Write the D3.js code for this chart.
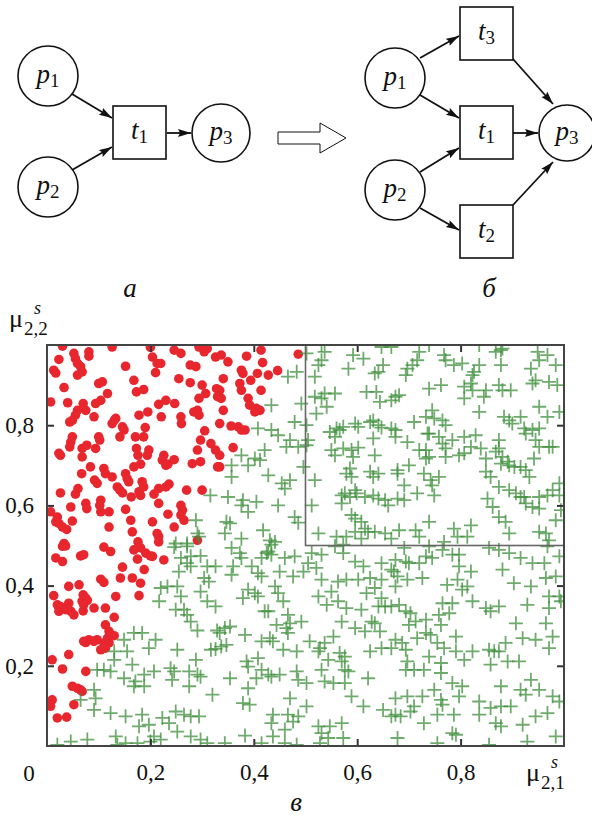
<!DOCTYPE html>
<html>
<head>
<meta charset="utf-8">
<script src="https://cdn.jsdelivr.net/npm/d3@7"></script>
<style>
  body { margin: 0; background: #fff; }
  svg { display: block; }
  svg text { font-family: "Liberation Serif", "Times New Roman", Times, "DejaVu Serif", serif; fill: #111; }
</style>
</head>
<body>
<div id="chart"></div>
<script>
// --- data ---
const xTicks = [0.2, 0.4, 0.6, 0.8];
const yTicks = [0.2, 0.4, 0.6, 0.8];
const originLabel = "0";
const boxX = [0.5, 1]; // inner rectangle
const boxY = [0.5, 1];

// red dots, upper left
const redUpper = [[0.03,0.997],[0.126,0.995],[0.2,0.994],[0.246,0.987],[0.259,0.979],[0.294,0.995],[0.304,0.983],[0.31,0.991],[0.052,0.979],[0.055,0.966],[0.081,0.983],[0.081,0.972],[0.023,0.964],[0.059,0.954],[0.065,0.946],[0.068,0.933],[0.059,0.925],[0.013,0.937],[0.017,0.93],[0.152,0.947],[0.204,0.97],[0.213,0.954],[0.22,0.954],[0.21,0.931],[0.277,0.95],[0.288,0.946],[0.326,0.97],[0.168,0.912],[0.173,0.883],[0.187,0.889],[0.255,0.916],[0.277,0.906],[0.3,0.9],[0.307,0.879],[0.294,0.867],[0.328,0.891],[0.33,0.871],[0.033,0.894],[0.1,0.904],[0.107,0.908],[0.117,0.879],[0.007,0.858],[0.04,0.856],[0.07,0.854],[0.075,0.837],[0.059,0.837],[0.055,0.825],[0.049,0.812],[0.044,0.808],[0.091,0.821],[0.094,0.854],[0.104,0.862],[0.13,0.812],[0.133,0.817],[0.126,0.804],[0.146,0.796],[0.149,0.788],[0.141,0.771],[0.178,0.825],[0.195,0.833],[0.216,0.852],[0.23,0.862],[0.247,0.854],[0.221,0.821],[0.259,0.821],[0.26,0.804],[0.284,0.833],[0.291,0.837],[0.294,0.825],[0.19,0.794],[0.187,0.771],[0.171,0.771],[0.305,0.786],[0.297,0.763],[0.317,0.754],[0.291,0.738],[0.326,0.738],[0.33,0.696],[0.049,0.771],[0.046,0.758],[0.044,0.746],[0.026,0.725],[0.023,0.73],[0.068,0.742],[0.077,0.75],[0.068,0.721],[0.094,0.742],[0.1,0.771],[0.102,0.763],[0.173,0.742],[0.176,0.725],[0.197,0.738],[0.194,0.725],[0.226,0.725],[0.223,0.713],[0.23,0.7],[0.234,0.703],[0.246,0.714],[0.281,0.704],[0.297,0.709],[0.168,0.696],[0.181,0.703],[0.084,0.696],[0.11,0.692],[0.113,0.679],[0.067,0.679],[0.092,0.663],[0.097,0.655],[0.126,0.671],[0.152,0.679],[0.155,0.667],[0.158,0.659],[0.136,0.646],[0.141,0.638],[0.146,0.631],[0.184,0.659],[0.187,0.646],[0.178,0.634],[0.181,0.625],[0.163,0.621],[0.207,0.628],[0.216,0.642],[0.23,0.646],[0.236,0.653],[0.27,0.638],[0.3,0.638],[0.06,0.642],[0.055,0.628],[0.026,0.631],[0.216,0.605],[0.259,0.6],[0.262,0.588],[0.259,0.576],[0.265,0.563],[0.234,0.578],[0.204,0.559],[0.162,0.563],[0.152,0.59],[0.12,0.584],[0.104,0.613],[0.102,0.6],[0.104,0.584],[0.075,0.605],[0.077,0.592],[0.046,0.596],[0.02,0.571],[0.017,0.559],[0.023,0.555],[0.007,0.584],[0.03,0.546],[0.038,0.54],[0.049,0.561],[0.165,0.534],[0.12,0.546],[0.213,0.53],[0.216,0.522],[0.216,0.509],[0.246,0.546],[0.291,0.513],[0.176,0.509],[0.033,0.505]];
// red dots, upper middle
const redMid = [[0.337,0.975],[0.35,0.958],[0.386,0.972],[0.414,0.987],[0.417,0.956],[0.376,0.937],[0.379,0.929],[0.407,0.929],[0.428,0.925],[0.446,0.936],[0.341,0.916],[0.373,0.904],[0.376,0.887],[0.394,0.912],[0.414,0.887],[0.334,0.887],[0.337,0.867],[0.341,0.837],[0.389,0.867],[0.392,0.85],[0.405,0.842],[0.412,0.837],[0.402,0.833],[0.486,0.977],[0.356,0.798],[0.334,0.804],[0.37,0.796],[0.376,0.788],[0.383,0.788],[0.36,0.744],[0.334,0.725],[0.334,0.696]];
// red dots, lower left
const redLower = [[0.03,0.498],[0.036,0.499],[0.11,0.496],[0.123,0.485],[0.168,0.489],[0.181,0.494],[0.175,0.466],[0.191,0.481],[0.2,0.474],[0.204,0.473],[0.226,0.464],[0.017,0.469],[0.03,0.46],[0.065,0.474],[0.071,0.477],[0.146,0.446],[0.188,0.44],[0.142,0.419],[0.165,0.419],[0.181,0.406],[0.104,0.416],[0.11,0.408],[0.042,0.398],[0.062,0.402],[0.013,0.375],[0.07,0.377],[0.075,0.369],[0.068,0.361],[0.078,0.363],[0.071,0.352],[0.133,0.373],[0.178,0.375],[0.02,0.352],[0.026,0.348],[0.023,0.336],[0.036,0.34],[0.042,0.356],[0.046,0.336],[0.052,0.327],[0.07,0.337],[0.091,0.344],[0.113,0.344],[0.13,0.321],[0.113,0.302],[0.12,0.286],[0.123,0.277],[0.13,0.275],[0.117,0.269],[0.11,0.257],[0.104,0.24],[0.113,0.244],[0.12,0.257],[0.097,0.265],[0.091,0.261],[0.081,0.265],[0.075,0.258],[0.071,0.261],[0.042,0.228],[0.01,0.215],[0.03,0.192],[0.075,0.186],[0.049,0.149],[0.059,0.144],[0.065,0.14],[0.068,0.136],[0.052,0.103],[0.01,0.115],[0.007,0.099],[0.02,0.07],[0.038,0.072]];

// green crosses, by region
const greenLowLeft = [[0.316,0.625],[0.288,0.563],[0.291,0.53],[0.294,0.522],[0.249,0.505],[0.271,0.505],[0.246,0.496],[0.271,0.498],[0.259,0.469],[0.278,0.473],[0.271,0.456],[0.278,0.448],[0.255,0.435],[0.297,0.474],[0.31,0.448],[0.326,0.448],[0.304,0.419],[0.313,0.41],[0.297,0.385],[0.31,0.361],[0.326,0.348],[0.22,0.394],[0.233,0.398],[0.252,0.398],[0.217,0.361],[0.259,0.373],[0.249,0.34],[0.265,0.34],[0.271,0.327],[0.278,0.31],[0.291,0.288],[0.329,0.288],[0.317,0.24],[0.326,0.242],[0.288,0.215],[0.168,0.282],[0.184,0.282],[0.149,0.265],[0.21,0.265],[0.197,0.244],[0.252,0.24],[0.13,0.236],[0.13,0.215],[0.155,0.236],[0.165,0.203],[0.097,0.19],[0.11,0.19],[0.123,0.186],[0.149,0.169],[0.171,0.161],[0.188,0.178],[0.188,0.149],[0.168,0.149],[0.207,0.186],[0.239,0.194],[0.246,0.186],[0.275,0.186],[0.291,0.178],[0.297,0.173],[0.242,0.165],[0.275,0.149],[0.32,0.128],[0.091,0.14],[0.094,0.119],[0.065,0.115],[0.091,0.09],[0.123,0.082],[0.152,0.074],[0.184,0.078],[0.178,0.049],[0.197,0.053],[0.223,0.07],[0.236,0.057],[0.249,0.086],[0.265,0.078],[0.278,0.074],[0.294,0.074],[0.252,0.036],[0.278,0.024],[0.297,0.016],[0.31,0.007],[0.078,0.016],[0.046,0.011],[0.02,0.003],[0.133,0.024],[0.136,0.003],[0.152,0.007],[0.175,0.007],[0.2,0.011],[0.207,0.024],[0.22,0.016]];
const greenUpMid = [[0.502,0.979],[0.466,0.921],[0.483,0.933],[0.434,0.85],[0.492,0.854],[0.479,0.808],[0.502,0.8],[0.408,0.792],[0.434,0.788],[0.447,0.775],[0.47,0.763],[0.463,0.746],[0.486,0.746],[0.502,0.75],[0.505,0.763],[0.421,0.738],[0.376,0.725],[0.357,0.7],[0.357,0.671],[0.402,0.717],[0.412,0.713],[0.389,0.7],[0.428,0.675],[0.454,0.655],[0.47,0.663],[0.46,0.642],[0.496,0.696],[0.35,0.621],[0.379,0.613],[0.376,0.6],[0.389,0.584],[0.405,0.609],[0.447,0.6],[0.479,0.571],[0.486,0.557],[0.347,0.559],[0.354,0.555],[0.344,0.53],[0.376,0.517],[0.418,0.538],[0.431,0.513],[0.441,0.509],[0.518,0.663],[0.512,0.6],[0.525,0.53],[0.531,0.962],[0.518,0.921],[0.525,0.95],[0.518,0.871],[0.531,0.867],[0.537,0.879],[0.557,0.879],[0.541,0.846],[0.521,0.829],[0.547,0.783],[0.56,0.792],[0.566,0.788],[0.573,0.796],[0.557,0.771],[0.596,0.804],[0.602,0.796],[0.625,0.808],[0.641,0.8],[0.647,0.794],[0.666,0.792],[0.631,0.767],[0.55,0.738],[0.557,0.725],[0.573,0.742],[0.589,0.738],[0.602,0.744],[0.592,0.721],[0.634,0.725],[0.579,0.679],[0.586,0.692],[0.589,0.671],[0.625,0.684],[0.641,0.679],[0.631,0.671],[0.57,0.625],[0.576,0.63],[0.586,0.621],[0.596,0.638],[0.599,0.63],[0.615,0.621],[0.631,0.625],[0.641,0.617],[0.654,0.613],[0.66,0.6],[0.57,0.605],[0.589,0.576],[0.596,0.567],[0.608,0.559],[0.615,0.542],[0.621,0.534],[0.634,0.534],[0.654,0.53],[0.666,0.517],[0.56,0.522],[0.579,0.522],[0.596,0.534],[0.608,0.517],[0.592,0.975],[0.612,0.966],[0.583,0.941],[0.65,0.95],[0.641,0.933],[0.634,0.929],[0.647,0.995],[0.666,0.995],[0.618,0.883],[0.637,0.883],[0.644,0.858],[0.666,0.862],[0.631,0.812],[0.531,1.0],[0.537,0.983]];
const greenUpRight = [[0.739,1.0],[0.72,0.983],[0.716,0.962],[0.697,0.941],[0.694,0.925],[0.707,0.95],[0.768,0.975],[0.771,0.962],[0.787,0.95],[0.803,0.954],[0.836,1.0],[0.836,0.95],[0.826,0.933],[0.823,0.925],[0.878,0.987],[0.881,0.991],[0.868,0.983],[0.878,0.95],[0.807,0.896],[0.82,0.904],[0.823,0.887],[0.849,0.887],[0.845,0.871],[0.874,0.9],[0.881,0.887],[0.897,0.887],[0.949,0.983],[0.968,0.975],[0.984,0.95],[0.952,0.962],[0.936,0.941],[0.945,0.912],[0.939,0.904],[0.971,0.908],[0.987,0.9],[0.674,0.871],[0.681,0.875],[0.739,0.891],[0.762,0.9],[0.807,0.867],[0.836,0.833],[0.952,0.846],[0.968,0.821],[0.991,0.833],[0.745,0.837],[0.733,0.821],[0.749,0.817],[0.765,0.812],[0.771,0.8],[0.71,0.808],[0.674,0.788],[0.674,0.771],[0.697,0.758],[0.739,0.779],[0.758,0.771],[0.784,0.763],[0.807,0.771],[0.829,0.775],[0.884,0.821],[0.894,0.812],[0.9,0.804],[0.916,0.821],[0.952,0.792],[0.939,0.788],[0.923,0.792],[0.926,0.779],[0.945,0.763],[0.874,0.763],[0.868,0.734],[0.874,0.742],[0.82,0.746],[0.839,0.742],[0.807,0.73],[0.797,0.725],[0.771,0.742],[0.771,0.721],[0.733,0.738],[0.733,0.717],[0.739,0.721],[0.72,0.738],[0.7,0.7],[0.678,0.688],[0.678,0.679],[0.849,0.717],[0.881,0.721],[0.878,0.704],[0.891,0.709],[0.894,0.7],[0.904,0.696],[0.916,0.696],[0.926,0.688],[0.942,0.717],[0.971,0.746],[0.978,0.746],[0.952,0.746],[0.729,0.679],[0.742,0.663],[0.745,0.65],[0.758,0.671],[0.849,0.684],[0.858,0.671],[0.874,0.646],[0.894,0.638],[0.907,0.63],[0.916,0.621],[0.923,0.621],[0.926,0.605],[0.939,0.596],[0.952,0.621],[0.968,0.625],[0.978,0.638],[0.991,0.655],[0.991,0.625],[0.994,0.588],[0.691,0.65],[0.678,0.617],[0.691,0.613],[0.716,0.63],[0.749,0.625],[0.852,0.617],[0.862,0.596],[0.874,0.571],[0.887,0.559],[0.739,0.559],[0.787,0.542],[0.82,0.55],[0.813,0.522],[0.794,0.522],[0.713,0.538],[0.72,0.522],[0.681,0.538],[0.768,0.509],[0.894,0.53],[0.952,0.534],[0.965,0.53],[0.971,0.513],[0.984,0.563],[0.952,0.592],[0.933,0.671],[0.736,0.779],[0.765,0.754]];
const greenLowMid = [[0.357,0.494],[0.373,0.481],[0.376,0.469],[0.36,0.448],[0.357,0.427],[0.396,0.448],[0.415,0.469],[0.425,0.481],[0.434,0.477],[0.46,0.469],[0.479,0.473],[0.512,0.481],[0.531,0.477],[0.505,0.456],[0.521,0.444],[0.496,0.435],[0.476,0.423],[0.45,0.435],[0.415,0.423],[0.408,0.431],[0.389,0.39],[0.402,0.381],[0.379,0.369],[0.408,0.373],[0.441,0.398],[0.447,0.381],[0.457,0.361],[0.421,0.336],[0.428,0.336],[0.466,0.327],[0.47,0.306],[0.463,0.294],[0.466,0.282],[0.492,0.31],[0.444,0.302],[0.344,0.294],[0.354,0.298],[0.334,0.282],[0.337,0.248],[0.347,0.252],[0.383,0.277],[0.415,0.261],[0.431,0.269],[0.437,0.261],[0.457,0.24],[0.483,0.236],[0.508,0.261],[0.528,0.244],[0.537,0.257],[0.554,0.273],[0.525,0.236],[0.544,0.215],[0.566,0.232],[0.576,0.223],[0.386,0.211],[0.389,0.198],[0.408,0.219],[0.415,0.19],[0.405,0.169],[0.428,0.178],[0.45,0.178],[0.434,0.173],[0.483,0.186],[0.486,0.165],[0.502,0.157],[0.354,0.169],[0.389,0.144],[0.379,0.107],[0.392,0.103],[0.47,0.119],[0.502,0.099],[0.437,0.078],[0.434,0.057],[0.466,0.078],[0.486,0.074],[0.476,0.061],[0.46,0.041],[0.437,0.024],[0.383,0.026],[0.344,0.007],[0.415,0.007],[0.46,0.007],[0.483,0.003],[0.525,0.049],[0.547,0.049],[0.531,0.032],[0.544,0.02],[0.573,0.02],[0.57,0.057],[0.528,0.007],[0.434,0.502],[0.428,0.485],[0.531,0.415],[0.563,0.41],[0.579,0.415],[0.602,0.415],[0.625,0.419],[0.55,0.385],[0.525,0.373],[0.541,0.352],[0.563,0.361],[0.579,0.344],[0.608,0.34],[0.618,0.381],[0.634,0.394],[0.647,0.369],[0.654,0.348],[0.666,0.348],[0.641,0.348],[0.57,0.31],[0.596,0.294],[0.615,0.286],[0.628,0.31],[0.634,0.306],[0.644,0.286],[0.625,0.236],[0.647,0.244],[0.666,0.244],[0.57,0.211],[0.576,0.19],[0.583,0.186],[0.531,0.19],[0.537,0.161],[0.554,0.157],[0.576,0.157],[0.589,0.124],[0.621,0.169],[0.612,0.099],[0.65,0.09],[0.666,0.074],[0.573,0.481],[0.596,0.46],[0.612,0.448],[0.647,0.456],[0.666,0.44],[0.647,0.415],[0.557,0.498],[0.573,0.502]];
const greenLowRight = [[0.691,0.494],[0.739,0.498],[0.765,0.489],[0.784,0.477],[0.797,0.477],[0.855,0.494],[0.874,0.489],[0.894,0.481],[0.916,0.469],[0.968,0.498],[0.991,0.473],[0.939,0.456],[0.962,0.456],[0.674,0.464],[0.694,0.46],[0.7,0.456],[0.72,0.456],[0.733,0.473],[0.745,0.469],[0.671,0.435],[0.678,0.423],[0.697,0.415],[0.726,0.419],[0.674,0.398],[0.797,0.448],[0.82,0.435],[0.881,0.44],[0.774,0.402],[0.794,0.415],[0.803,0.39],[0.813,0.398],[0.823,0.361],[0.903,0.406],[0.936,0.398],[0.965,0.419],[0.984,0.423],[0.971,0.373],[0.991,0.373],[0.994,0.361],[0.971,0.344],[0.965,0.306],[0.681,0.352],[0.694,0.336],[0.703,0.331],[0.765,0.356],[0.784,0.356],[0.778,0.331],[0.758,0.327],[0.762,0.302],[0.849,0.344],[0.858,0.336],[0.874,0.348],[0.907,0.306],[0.929,0.352],[0.92,0.269],[0.945,0.265],[0.978,0.273],[0.971,0.244],[0.713,0.311],[0.733,0.315],[0.7,0.302],[0.674,0.265],[0.687,0.257],[0.694,0.24],[0.716,0.269],[0.733,0.282],[0.742,0.277],[0.755,0.257],[0.768,0.244],[0.791,0.273],[0.791,0.236],[0.807,0.215],[0.823,0.236],[0.855,0.24],[0.865,0.236],[0.874,0.236],[0.887,0.257],[0.891,0.211],[0.913,0.211],[0.858,0.203],[0.697,0.211],[0.694,0.19],[0.71,0.19],[0.729,0.19],[0.739,0.223],[0.762,0.207],[0.762,0.182],[0.784,0.157],[0.803,0.149],[0.797,0.124],[0.749,0.14],[0.762,0.115],[0.765,0.103],[0.674,0.119],[0.697,0.124],[0.726,0.124],[0.71,0.099],[0.674,0.078],[0.684,0.074],[0.703,0.086],[0.729,0.057],[0.755,0.078],[0.787,0.078],[0.836,0.111],[0.836,0.078],[0.858,0.095],[0.878,0.099],[0.897,0.099],[0.868,0.057],[0.878,0.049],[0.92,0.053],[0.945,0.074],[0.968,0.082],[0.878,0.149],[0.916,0.14],[0.926,0.128],[0.952,0.14],[0.978,0.124],[0.991,0.111],[0.936,0.165],[0.784,0.032],[0.791,0.028],[0.678,0.02],[0.855,0.003],[0.929,0.011],[0.984,0.024],[0.755,0.007]];

const redPts = redUpper.concat(redMid, redLower);
const greenPts = greenLowLeft.concat(greenUpMid, greenUpRight, greenLowMid, greenLowRight);

const serif = '"Liberation Serif", "Times New Roman", Times, "DejaVu Serif", serif';

const svg = d3.select("#chart").append("svg")
    .attr("width", 592)
    .attr("height", 818)
    .attr("font-family", serif);

svg.append("defs").append("marker")
    .attr("id", "head")
    .attr("markerUnits", "userSpaceOnUse")
    .attr("markerWidth", 14).attr("markerHeight", 10)
    .attr("refX", 13).attr("refY", 4)
    .attr("orient", "auto")
  .append("path")
    .attr("d", "M0,0 L13,4 L0,8 L2,4 Z")
    .attr("fill", "#111");

// italic letter with upright subscript, e.g. p1, t3
const nodeLabel = function(g, cx, cy, letter, sub) {
    const t = g.append("text")
        .attr("x", cx).attr("y", cy + 7)
        .attr("text-anchor", "middle");
    t.append("tspan").attr("font-style", "italic").attr("font-size", 27).text(letter);
    t.append("tspan").attr("font-size", 19).attr("dy", 4).text(sub);
}

const drawNet = function(places, trans, arcs) {
    let g = svg.append("g");
    places.forEach((p) => {
        g.append("circle").attr("cx", p.x).attr("cy", p.y).attr("r", p.r)
            .attr("fill", "#fff").attr("stroke", "#111").attr("stroke-width", 1.6);
        nodeLabel(g, p.x, p.y, "p", p.id);
    })
    trans.forEach((t) => {
        g.append("rect").attr("x", t.x).attr("y", t.y).attr("width", 53).attr("height", 53)
            .attr("fill", "#fff").attr("stroke", "#111").attr("stroke-width", 1.6);
        nodeLabel(g, t.x + 26.5, t.y + 26, "t", t.id);
    })
    arcs.forEach((a) => {
        g.append("line").attr("x1", a[0]).attr("y1", a[1]).attr("x2", a[2]).attr("y2", a[3])
            .attr("stroke", "#111").attr("stroke-width", 1.8).attr("marker-end", "url(#head)");
    })
}

// net a
drawNet(
    [{id: "1", x: 48, y: 76, r: 30}, {id: "2", x: 48, y: 187, r: 30}, {id: "3", x: 221, y: 133, r: 29}],
    [{id: "1", x: 113, y: 106}],
    [[72, 94, 112, 118], [72, 170, 112, 147], [167, 133, 191, 133]]
);
// net б
drawNet(
    [{id: "1", x: 395, y: 78, r: 30}, {id: "2", x: 395, y: 190, r: 30}, {id: "3", x: 567, y: 133, r: 28}],
    [{id: "3", x: 460, y: 7}, {id: "1", x: 460, y: 106}, {id: "2", x: 460, y: 205}],
    [[420, 58, 459, 36], [420, 95, 459, 118], [420, 172, 459, 148], [420, 208, 459, 230],
     [513, 59, 553, 104], [513, 133, 538, 133], [513, 205, 553, 162]]
);

// hollow arrow between the nets
svg.append("path")
    .attr("d", "M278,132 L320,132 L320,123 L346,138 L320,153 L320,144 L278,144 Z")
    .attr("fill", "#fff").attr("stroke", "#111").attr("stroke-width", 1);

const caption = function(x, y, s) {
    svg.append("text").attr("x", x).attr("y", y).attr("text-anchor", "middle")
        .attr("font-style", "italic").attr("font-size", 27).text(s);
}
caption(130, 297, "а");
caption(489, 297, "б");
caption(296, 811, "в");

// --- scatter ---
const x = d3.scaleLinear().domain([0, 1]).range([47, 564]);
const y = d3.scaleLinear().domain([0, 1]).range([746, 345]);
const commaFmt = (d) => d3.format(".1f")(d).replace(".", ",");

svg.append("clipPath").attr("id", "plot-clip")
  .append("rect").attr("x", 47).attr("y", 345).attr("width", 517).attr("height", 401);

let plot = svg.append("g").attr("clip-path", "url(#plot-clip)");

plot.selectAll(".red")
    .data(redPts)
    .enter().append("circle")
        .attr("class", "red")
        .attr("cx", (d) => x(d[0]))
        .attr("cy", (d) => y(d[1]))
        .attr("r", 4.8)
        .attr("fill", "#e8262e");

plot.selectAll(".green")
    .data(greenPts)
    .enter().append("path")
        .attr("class", "green")
        .attr("d", (d) => {
            const cx = x(d[0]), cy = y(d[1]);
            return "M" + (cx - 7) + "," + cy + "H" + (cx + 7) + "M" + cx + "," + (cy - 7) + "V" + (cy + 7);
        })
        .attr("stroke", "#3f8f3c")
        .attr("stroke-opacity", 0.75)
        .attr("stroke-width", 1.8)
        .attr("fill", "none");

// inner box
svg.append("rect")
    .attr("x", x(boxX[0])).attr("y", y(boxY[1]))
    .attr("width", x(boxX[1]) - x(boxX[0])).attr("height", y(boxY[0]) - y(boxY[1]))
    .attr("fill", "none").attr("stroke", "#666").attr("stroke-width", 1.6);

// axes with inward ticks on all four sides
const axisStyle = function(g) {
    g.attr("font-family", serif).attr("font-size", 23);
    g.selectAll(".domain").remove();
    g.selectAll(".tick line").attr("stroke", "#333").attr("stroke-width", 2);
    g.selectAll(".tick text").attr("fill", "#111");
}
svg.append("g").attr("transform", "translate(0,746)")
    .call(d3.axisBottom(x).tickValues(xTicks).tickSizeInner(-7).tickSizeOuter(0).tickPadding(18).tickFormat(commaFmt))
    .call(axisStyle);
svg.append("g").attr("transform", "translate(0,345)")
    .call(d3.axisTop(x).tickValues(xTicks).tickSizeInner(-7).tickSizeOuter(0).tickFormat(""))
    .call(axisStyle);
svg.append("g").attr("transform", "translate(47,0)")
    .call(d3.axisLeft(y).tickValues(yTicks).tickSizeInner(-7).tickSizeOuter(0).tickPadding(13).tickFormat(commaFmt))
    .call(axisStyle);
svg.append("g").attr("transform", "translate(564,0)")
    .call(d3.axisRight(y).tickValues(yTicks).tickSizeInner(-7).tickSizeOuter(0).tickFormat(""))
    .call(axisStyle);

svg.append("rect").attr("x", 47).attr("y", 345).attr("width", 517).attr("height", 401)
    .attr("fill", "none").attr("stroke", "#444").attr("stroke-width", 2);

svg.append("text").attr("x", 29).attr("y", 781).attr("text-anchor", "middle")
    .attr("font-size", 23).text(originLabel);

// axis titles: mu with super- and subscript
const muLabel = function(xp, yp, sub) {
    let g = svg.append("g");
    g.append("text").attr("x", xp).attr("y", yp).attr("font-size", 26).text("μ");
    g.append("text").attr("x", xp + 15).attr("y", yp + 8).attr("font-size", 19).text(sub);
    g.append("text").attr("x", xp + 25).attr("y", yp - 13).attr("font-size", 18).attr("font-style", "italic").text("s");
}
muLabel(9, 327, "2,2");
muLabel(526, 781, "2,1");
</script>
</body>
</html>
